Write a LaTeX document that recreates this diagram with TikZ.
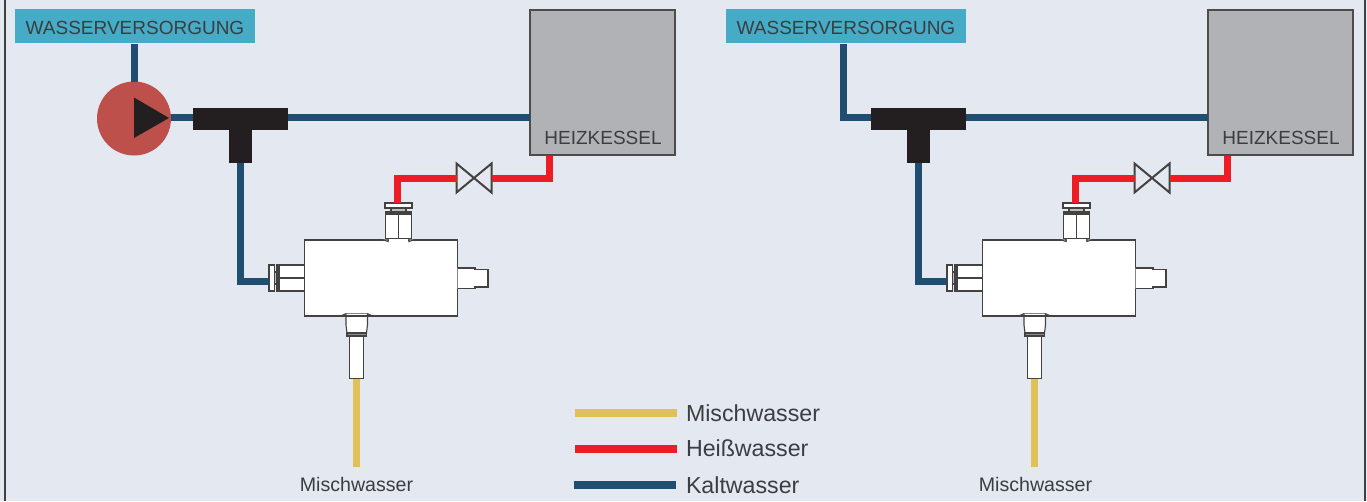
\documentclass[tikz,border=0pt]{standalone}
\usepackage{fontspec}
\setmainfont{Liberation Sans}

\definecolor{bgblue}{HTML}{E4E9F1}
\definecolor{kaltblue}{HTML}{1F4E71}
\definecolor{heissred}{HTML}{EE1C25}
\definecolor{mischyellow}{HTML}{DFC158}
\definecolor{labelcyan}{HTML}{45ABC6}
\definecolor{kesselgray}{HTML}{B1B2B6}
\definecolor{pumpred}{HTML}{BE504C}
\definecolor{teeblack}{HTML}{231F20}
\definecolor{textgray}{HTML}{3C3D41}

\tikzset{
  kalt/.style={draw=kaltblue,line width=7pt},
  heiss/.style={draw=heissred,line width=7pt},
  misch/.style={draw=mischyellow,line width=7pt},
  legline/.style={line width=8pt},
  part/.style={draw=teeblack!85,line width=1.1pt,fill=white},
  plain/.style={inner sep=0pt,outer sep=0pt},
  supply/.style={plain,fill=labelcyan,text=textgray,minimum width=240pt,minimum height=34pt,text height=16.5pt,text depth=0pt,font=\fontsize{19}{20}\selectfont},
  kessel/.style={plain,draw=black!70,line width=1.2pt,fill=kesselgray,minimum width=145pt,minimum height=145pt},
  ktext/.style={plain,text=textgray,font=\fontsize{19}{20}\selectfont},
  mtext/.style={plain,text=textgray,font=\fontsize{19.6}{21}\selectfont},
  legtext/.style={plain,anchor=west,text=textgray,font=\fontsize{23.2}{25}\selectfont},
  teepart/.style={plain,fill=teeblack},
  ventil/.style={plain,minimum width=35pt,minimum height=29pt},
  mixer/.pic={
    \node [part,plain,minimum width=153pt,minimum height=76pt] (box) at (381,278) {};
    \coordinate (hotin) at (397.3,203);
    \coordinate (coldin) at (269,281);
    \coordinate (mixout) at (356.8,378.5);
    % top fitting
    \draw [part] (383,239.7) -- (388,241.5) -- (388,238.5) -- (409,238.5) -- (409,241.5) -- (414,239.7);
    \fill [white] (388.6,238) rectangle (408.4,241);
    \draw [part,fill=black!25] (391,208) rectangle (406,212);
    \draw [part] (385.5,212) rectangle (411.5,238.5);
    \draw [part] (385.5,214) -- (411.5,214);
    \draw [part] (398.5,214) -- (398.5,238.5);
    \node [part,plain,minimum width=27pt,minimum height=5pt] (hot) at (398.5,205.5) {};
    % left fitting
    \draw [part,fill=black!25] (274.5,272) rectangle (277,284);
    \draw [part] (277,265) rectangle (304.5,291);
    \draw [part] (279,265) -- (279,291);
    \draw [part] (279,278) -- (304.5,278);
    \node [part,plain,minimum width=5.5pt,minimum height=26pt] (cold) at (271.75,278) {};
    % right stub
    \draw [part] (457.5,268) -- (475,268) -- (475,269.5) -- (488,269.5) -- (488,287) -- (475,287) -- (475,288.5) -- (457.5,288.5);
    % bottom fitting
    \fill [white] (346,312) rectangle (368,320);
    \draw [part,fill=none] (340.5,316) -- (346,313.7) -- (367.5,313.7) -- (372.5,316);
    \draw [part] (346,313.7) -- (346,325) -- (347,333) -- (366.5,333) -- (367.5,325) -- (367.5,313.7);
    \draw [part] (346,316) -- (367.5,316);
    \draw [part,fill=black!45] (347,333) rectangle (366.5,336);
    \node [part,plain,minimum width=13.5pt,minimum height=42pt] (mix) at (356.5,357.5) {};
  },
}

\begin{document}
\begin{tikzpicture}[x=1pt,y=-1pt]

\useasboundingbox [fill=bgblue] (0,0) rectangle (1367,501);
\draw [black!75,line width=1.3pt] (5,0) -- (5,501);
\draw [black!75,line width=1.3pt] (1365,0) -- (1365,501);

% left circuit
\node [supply] (supplyA) at (135,26) {WASSERVERSORGUNG};
\node [circle,plain,fill=pumpred,minimum size=74pt] (pumpA) at (134,118.5) {};
\fill [teeblack] (134,97.5) -- (169,118) -- (134,138) -- cycle;
\node [teepart,minimum width=95pt,minimum height=22pt] (teeAbar) at (240.5,119) {};
\node [teepart,minimum width=22.5pt,minimum height=33pt] (teeAstem) at (240.5,146) {};
\node [kessel] (kesselA) at (602.5,82.5) {};
\node [ktext] (kesselAtext) at (603,138) {HEIZKESSEL};
\node [ventil] (ventilA) at (474,178) {};
\draw [part,fill=none,line width=2pt] (ventilA.north west) -- (ventilA.south east) -- (ventilA.north east) -- (ventilA.south west) -- cycle;
\pic (mixA) at (0,0) {mixer};
\coordinate (mainA) at (240,117.5);
\coordinate (hotA) at (549.3,156);
\node [mtext] (mischA) at (356.5,484) {Mischwasser};

\draw [kalt] (pumpA.north |- supplyA.south) ++(0,1) -- (pumpA.north);
\draw [kalt] (mainA -| pumpA.east) -- (mainA -| teeAbar.west);
\draw [kalt] (mainA -| teeAbar.east) -- (mainA -| kesselA.west);
\draw [kalt] (teeAstem.south) |- (mixAcoldin);
\draw [heiss] (hotA) |- (ventilA.east);
\draw [heiss] (ventilA.west) -| (mixAhotin);
\draw [misch] (mixAmixout) -- ++(0,88);

% right circuit
\node [supply] (supplyB) at (846,26) {WASSERVERSORGUNG};
\node [teepart,minimum width=95pt,minimum height=22pt] (teeBbar) at (918.5,119) {};
\node [teepart,minimum width=22.5pt,minimum height=33pt] (teeBstem) at (918.5,146) {};
\node [kessel] (kesselB) at (1280.5,82.5) {};
\node [ktext] (kesselBtext) at (1281,138) {HEIZKESSEL};
\node [ventil] (ventilB) at (1152,178) {};
\draw [part,fill=none,line width=2pt] (ventilB.north west) -- (ventilB.south east) -- (ventilB.north east) -- (ventilB.south west) -- cycle;
\pic (mixB) at (678,0) {mixer};
\coordinate (eckB) at (843,117.5);
\coordinate (hotB) at (1227.3,156);
\node [mtext] (mischB) at (1035.5,484) {Mischwasser};

\draw [kalt] (eckB |- supplyB.south) ++(0,1) |- (teeBbar.west |- eckB);
\draw [kalt] (eckB -| teeBbar.east) -- (eckB -| kesselB.west);
\draw [kalt] (teeBstem.south) |- (mixBcoldin);
\draw [heiss] (hotB) |- (ventilB.east);
\draw [heiss] (ventilB.west) -| (mixBhotin);
\draw [misch] (mixBmixout) -- ++(0,88);

% legend
\coordinate (legA) at (575,413);
\coordinate (legAend) at (677,413);
\coordinate (legB) at (575,449);
\coordinate (legBend) at (677,449);
\coordinate (legC) at (574,485);
\coordinate (legCend) at (676,485);
\draw [legline,mischyellow] (legA) -- (legAend);
\draw [legline,heissred] (legB) -- (legBend);
\draw [legline,kaltblue] (legC) -- (legCend);
\node [legtext] (legAtext) at (686,413) {Mischwasser};
\node [legtext] (legBtext) at (686,448) {Heißwasser};
\node [legtext] (legCtext) at (686,485) {Kaltwasser};

\end{tikzpicture}
\end{document}
